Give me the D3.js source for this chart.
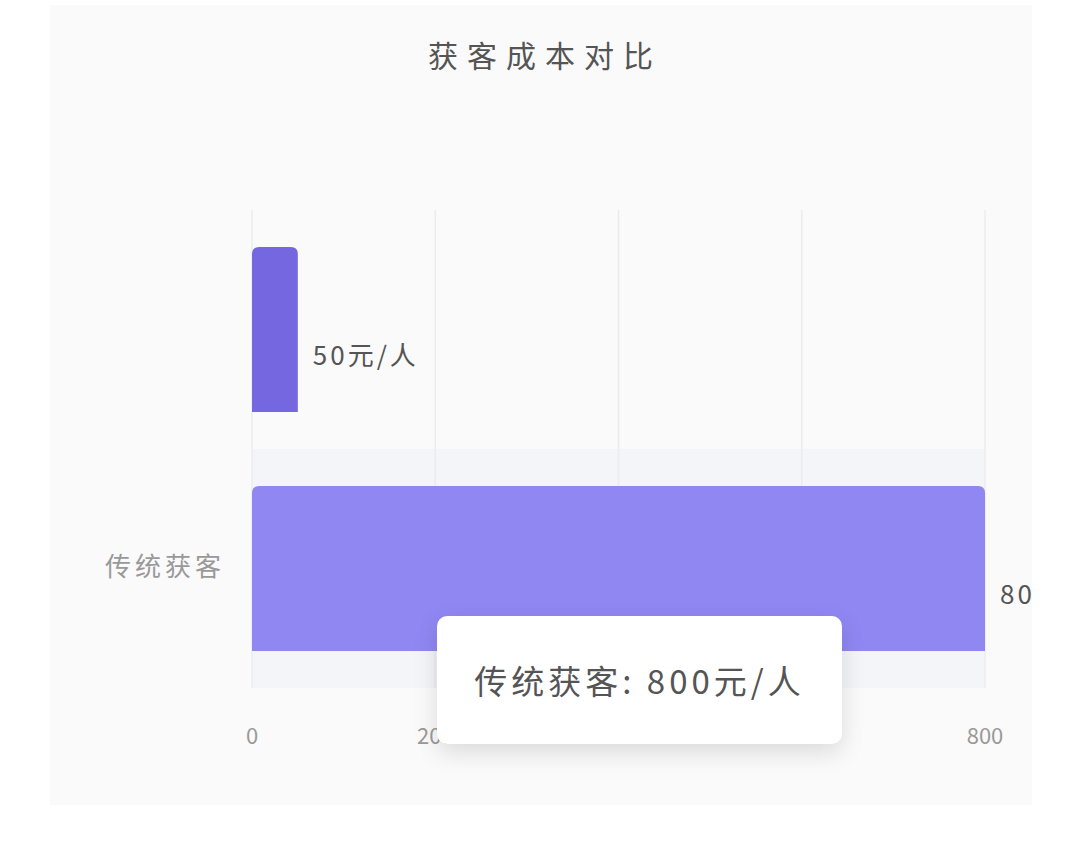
<!DOCTYPE html>
<html>
<head>
<meta charset="utf-8">
<script src="https://cdn.jsdelivr.net/npm/d3@7"></script>
<style>
  body { margin: 0; background: #ffffff; font-family: "Noto Sans CJK SC", "Noto Sans", sans-serif; }
  #wrap { position: relative; width: 1080px; height: 862px; }
  #card { position: absolute; left: 50px; top: 5px; width: 982px; height: 800px; background: #fafafa; overflow: hidden; }
  #tip { position: absolute; left: 437px; top: 616px; width: 405px; height: 128px; background: #fff;
         border-radius: 10px; box-shadow: 0 8px 24px rgba(0,0,0,0.13); display: flex; align-items: center;
         justify-content: center; font-size: 33px; color: #555; letter-spacing: 4px; }
</style>
</head>
<body>
<div id="wrap">
  <div id="card"><svg id="board" width="982" height="800"></svg></div>
  <div id="tip"></div>
</div>
<script>
const title = "获客成本对比";
const categories = ["", "传统获客"];
const values = [50, 800];
const valueLabels = ["50元/人", "800元/人"];
const barColors = ["#7467e0", "#9087f3"];
const xTicks = [0, 200, 400, 600, 800];
const hoverIndex = 1;

// card is offset by 50,5 inside the page
const ox = 50, oy = 5;
const board = d3.select("#board");

const x = d3.scaleLinear().domain([0, 800]).range([252 - ox, 985 - ox]);
const y = d3.scaleBand().domain(d3.range(categories.length)).range([210 - oy, 688 - oy]).padding(0);
const barH = 165;

board.append("text")
    .attr("x", 545 - ox)
    .attr("y", 67 - oy)
    .attr("text-anchor", "middle")
    .attr("fill", "#555")
    .attr("font-size", "30px")
    .attr("letter-spacing", "9px")
    .text(title);

// hover shadow band
board.append("rect")
    .attr("x", x(0))
    .attr("y", y(hoverIndex))
    .attr("width", x(800) - x(0))
    .attr("height", y.bandwidth())
    .attr("fill", "#f3f5f9");

// vertical grid lines
board.selectAll("line.grid")
    .data(xTicks)
    .join("line")
    .attr("class", "grid")
    .attr("x1", d => x(d))
    .attr("x2", d => x(d))
    .attr("y1", y.range()[0])
    .attr("y2", y.range()[1])
    .attr("stroke", "#ececec")
    .attr("stroke-width", 1.5);

function barPath(x0, y0, w, h, r) {
    return `M${x0},${y0 + h} L${x0},${y0 + r} Q${x0},${y0} ${x0 + r},${y0} L${x0 + w - r},${y0} Q${x0 + w},${y0} ${x0 + w},${y0 + r} L${x0 + w},${y0 + h} Z`;
}

board.selectAll("path.bar")
    .data(values)
    .join("path")
    .attr("class", "bar")
    .attr("d", (d, i) => barPath(x(0), y(i) + (y.bandwidth() - barH) / 2, x(d) - x(0), barH, 7))
    .attr("fill", (d, i) => barColors[i]);

board.selectAll("text.val")
    .data(values)
    .join("text")
    .attr("class", "val")
    .attr("x", d => x(d) + 15)
    .attr("y", (d, i) => y(i) + y.bandwidth() / 2 + 28)
    .attr("dominant-baseline", "middle")
    .attr("fill", "#555")
    .attr("font-size", "26px")
    .attr("letter-spacing", "3px")
    .text((d, i) => valueLabels[i]);

board.selectAll("text.cat")
    .data(categories)
    .join("text")
    .attr("class", "cat")
    .attr("x", 225 - ox)
    .attr("y", (d, i) => y(i) + y.bandwidth() / 2)
    .attr("text-anchor", "end")
    .attr("dominant-baseline", "middle")
    .attr("fill", "#999")
    .attr("font-size", "26px")
    .attr("letter-spacing", "4px")
    .text(d => d);

board.selectAll("text.tick")
    .data(xTicks)
    .join("text")
    .attr("class", "tick")
    .attr("x", d => x(d))
    .attr("y", 738 - oy)
    .attr("text-anchor", "middle")
    .attr("dominant-baseline", "middle")
    .attr("fill", "#999")
    .attr("font-size", "22px")
    .text(d => d);

d3.select("#tip").text(categories[hoverIndex] + ": " + valueLabels[hoverIndex]);
</script>
</body>
</html>
